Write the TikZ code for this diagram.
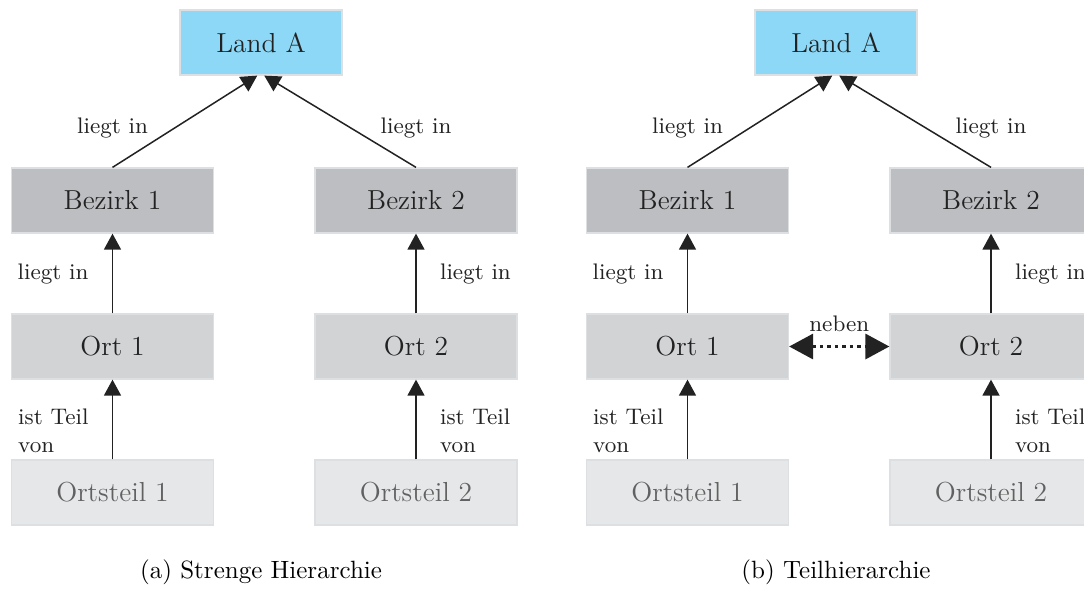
\documentclass[tikz,border=0pt]{standalone}
\usetikzlibrary{positioning, arrows.meta}
\definecolor{landblue}{HTML}{8DD8F6}
\definecolor{bezirkgray}{HTML}{BDBEC1}
\definecolor{ortgray}{HTML}{D2D3D5}
\definecolor{teilgray}{HTML}{E6E7E8}
\definecolor{boxline}{HTML}{DDE0E3}
\definecolor{ink}{HTML}{222222}

\begin{document}
\begin{tikzpicture}[x=0.4pt,y=-0.4pt,
    >={Triangle[width=6.8pt,length=6.4pt]},
    node distance=58.4pt and 0pt,on grid,
    box/.style={draw=boxline,line width=0.5pt,minimum width=80.8pt,minimum height=26pt,
      inner sep=0pt,font=\fontsize{11}{13}\selectfont,text=ink},
    land/.style={box,fill=landblue,minimum width=64.8pt},
    bezirk/.style={box,fill=bezirkgray},
    ort/.style={box,fill=ortgray},
    teil/.style={box,fill=teilgray,text=black!62},
    lbl/.style={font=\small,text=ink,align=left},
    rel/.style={->,line width=0.6pt,draw=ink},
    nebenrel/.style={{Triangle[width=10pt,length=9.6pt]}-{Triangle[width=10pt,length=9.6pt]},
      line width=1.3pt,dash pattern=on 1.3pt off 1.7pt,draw=ink}]
  \useasboundingbox (0,0) rectangle (1084,595);

  % (a) strenge Hierarchie
  \node[land] (laA) at (261,42.5) {Land A};
  \node[bezirk] (bzA1) [below left=63.2pt and 59.4pt of laA] {Bezirk 1};
  \node[bezirk] (bzA2) [below right=63.2pt and 62pt of laA] {Bezirk 2};
  \node[ort] (otA1) [below=of bzA1] {Ort 1};
  \node[ort] (otA2) [below=of bzA2] {Ort 2};
  \node[teil] (tlA1) [below=of otA1] {Ortsteil 1};
  \node[teil] (tlA2) [below=of otA2] {Ortsteil 2};
  \node[lbl] (liA1) [above=29pt of bzA1] {liegt in};
  \node[lbl] (liA2) [above=29pt of bzA2] {liegt in};

  \draw[rel] (bzA1.north) -- ([xshift=-1.5pt]laA.south);
  \draw[rel] (bzA2.north) -- ([xshift=1.3pt]laA.south);
  \draw[rel] (otA1.north) -- node[lbl,left=6pt] {liegt in} (bzA1.south);
  \draw[rel] (otA2.north) -- node[lbl,right=6pt] {liegt in} (bzA2.south);
  \draw[rel] (tlA1.north) -- node[lbl,left=6pt,yshift=-4.5pt] {ist Teil\\von} (otA1.south);
  \draw[rel] (tlA2.north) -- node[lbl,right=6pt,yshift=-4.5pt] {ist Teil\\von} (otA2.south);

  \node (capA) at (261,572) {(a) Strenge Hierarchie};

  % (b) Teilhierarchie
  \node[land] (laB) at (836,42.5) {Land A};
  \node[bezirk] (bzB1) [below left=63.2pt and 59.4pt of laB] {Bezirk 1};
  \node[bezirk] (bzB2) [below right=63.2pt and 62pt of laB] {Bezirk 2};
  \node[ort] (otB1) [below=of bzB1] {Ort 1};
  \node[ort] (otB2) [below=of bzB2] {Ort 2};
  \node[teil] (tlB1) [below=of otB1] {Ortsteil 1};
  \node[teil] (tlB2) [below=of otB2] {Ortsteil 2};
  \node[lbl] (liB1) [above=29pt of bzB1] {liegt in};
  \node[lbl] (liB2) [above=29pt of bzB2] {liegt in};

  \draw[rel] (bzB1.north) -- ([xshift=-1.5pt]laB.south);
  \draw[rel] (bzB2.north) -- ([xshift=1.3pt]laB.south);
  \draw[rel] (otB1.north) -- node[lbl,left=6pt] {liegt in} (bzB1.south);
  \draw[rel] (otB2.north) -- node[lbl,right=6pt] {liegt in} (bzB2.south);
  \draw[rel] (tlB1.north) -- node[lbl,left=6pt,yshift=-4.5pt] {ist Teil\\von} (otB1.south);
  \draw[rel] (tlB2.north) -- node[lbl,right=6pt,yshift=-4.5pt] {ist Teil\\von} (otB2.south);
  \draw[nebenrel] (otB1.east) -- node[lbl,above=2pt] {neben} (otB2.west);

  \node (capB) at (836,572) {(b) Teilhierarchie};
\end{tikzpicture}
\end{document}
